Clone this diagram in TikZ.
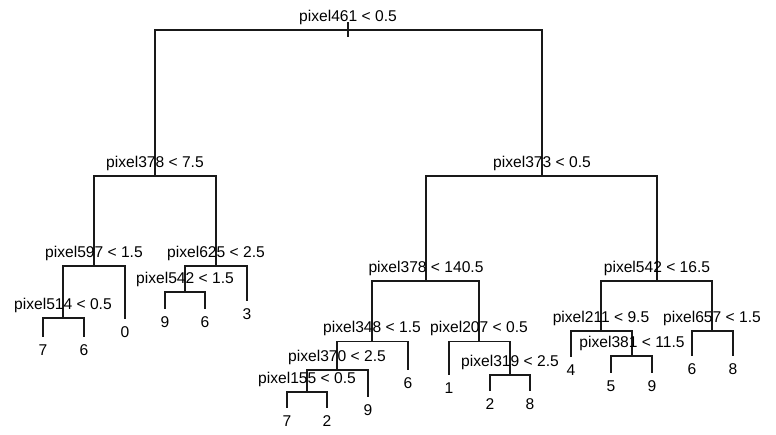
\documentclass[tikz,border=0pt]{standalone}
\usepackage{fontspec}
\setmainfont{Liberation Sans}
\begin{document}
\begin{tikzpicture}[x=1pt,y=-1pt,
  edge/.style={line width=1.1pt,draw=black!90},
  lab/.style={anchor=base,inner sep=0pt,font=\fontsize{15.6}{18}\selectfont},
  split/.style={lab,yshift=8.5pt},
  leaf/.style={lab,yshift=-18.5pt}]
\useasboundingbox (0,0) rectangle (776,435);
% split points
\coordinate (root) at (348,30);
\coordinate (A) at (155,176);
\coordinate (B) at (542,176);
\coordinate (C) at (94,266);
\coordinate (D) at (216,266);
\coordinate (E) at (63,318);
\coordinate (F) at (185,292);
\coordinate (G) at (426,281);
\coordinate (H) at (657,281);
\coordinate (I) at (372,341.5);
\coordinate (J) at (479,341.5);
\coordinate (K) at (337,370);
\coordinate (L) at (307,392);
\coordinate (M) at (510,375);
\coordinate (N) at (601,331);
\coordinate (O) at (712,331);
\coordinate (P) at (632,356);
% leaf ends
\coordinate (l0) at (125,319);
\coordinate (lE7) at (43,337);
\coordinate (lE6) at (84,337);
\coordinate (l3) at (247,301);
\coordinate (lF9) at (165,309);
\coordinate (lF6) at (205,309);
\coordinate (lI6) at (408,370);
\coordinate (lK9) at (368,397);
\coordinate (lL7) at (287,408);
\coordinate (lL2) at (327,408);
\coordinate (lJ1) at (449,375);
\coordinate (lM2) at (490,391);
\coordinate (lM8) at (530,391);
\coordinate (lN4) at (571,357);
\coordinate (lP5) at (611,373);
\coordinate (lP9) at (652,373);
\coordinate (lO6) at (692,356);
\coordinate (lO8) at (733,356);
% edges
\draw[edge] ([yshift=8pt]root) -- ([yshift=-7pt]root);
\draw[edge] (root) -| (A);
\draw[edge] (root) -| (B);
\draw[edge] (A) -| (C);
\draw[edge] (A) -| (D);
\draw[edge] (C) -| (E);
\draw[edge] (C) -| (l0);
\draw[edge] (E) -| (lE7);
\draw[edge] (E) -| (lE6);
\draw[edge] (D) -| (F);
\draw[edge] (D) -| (l3);
\draw[edge] (F) -| (lF9);
\draw[edge] (F) -| (lF6);
\draw[edge] (B) -| (G);
\draw[edge] (B) -| (H);
\draw[edge] (G) -| (I);
\draw[edge] (G) -| (J);
\draw[edge] (I) -| (K);
\draw[edge] (I) -| (lI6);
\draw[edge] (K) -| (L);
\draw[edge] (K) -| (lK9);
\draw[edge] (L) -| (lL7);
\draw[edge] (L) -| (lL2);
\draw[edge] (J) -| (lJ1);
\draw[edge] (J) -| (M);
\draw[edge] (M) -| (lM2);
\draw[edge] (M) -| (lM8);
\draw[edge] (H) -| (N);
\draw[edge] (H) -| (O);
\draw[edge] (N) -| (lN4);
\draw[edge] (N) -| (P);
\draw[edge] (P) -| (lP5);
\draw[edge] (P) -| (lP9);
\draw[edge] (O) -| (lO6);
\draw[edge] (O) -| (lO8);
% split labels
\node[split] (troot) at (root) {pixel461 < 0.5};
\node[split] (tA) at (A) {pixel378 < 7.5};
\node[split] (tB) at (B) {pixel373 < 0.5};
\node[split] (tC) at (C) {pixel597 < 1.5};
\node[split] (tD) at (D) {pixel625 < 2.5};
\node[split] (tE) at (E) {pixel514 < 0.5};
\node[split] (tF) at (F) {pixel542 < 1.5};
\node[split] (tG) at (G) {pixel378 < 140.5};
\node[split] (tH) at (H) {pixel542 < 16.5};
\node[split] (tI) at (I) {pixel348 < 1.5};
\node[split] (tJ) at (J) {pixel207 < 0.5};
\node[split] (tK) at (K) {pixel370 < 2.5};
\node[split] (tL) at (L) {pixel155 < 0.5};
\node[split] (tM) at (M) {pixel319 < 2.5};
\node[split] (tN) at (N) {pixel211 < 9.5};
\node[split] (tO) at (O) {pixel657 < 1.5};
\node[split] (tP) at (P) {pixel381 < 11.5};
% leaf labels
\node[leaf] (t0) at (l0) {0};
\node[leaf] (tE7) at (lE7) {7};
\node[leaf] (tE6) at (lE6) {6};
\node[leaf] (t3) at (l3) {3};
\node[leaf] (tF9) at (lF9) {9};
\node[leaf] (tF6) at (lF6) {6};
\node[leaf] (tI6) at (lI6) {6};
\node[leaf] (tK9) at (lK9) {9};
\node[leaf] (tL7) at (lL7) {7};
\node[leaf] (tL2) at (lL2) {2};
\node[leaf] (tJ1) at (lJ1) {1};
\node[leaf] (tM2) at (lM2) {2};
\node[leaf] (tM8) at (lM8) {8};
\node[leaf] (tN4) at (lN4) {4};
\node[leaf] (tP5) at (lP5) {5};
\node[leaf] (tP9) at (lP9) {9};
\node[leaf] (tO6) at (lO6) {6};
\node[leaf] (tO8) at (lO8) {8};
\end{tikzpicture}
\end{document}
